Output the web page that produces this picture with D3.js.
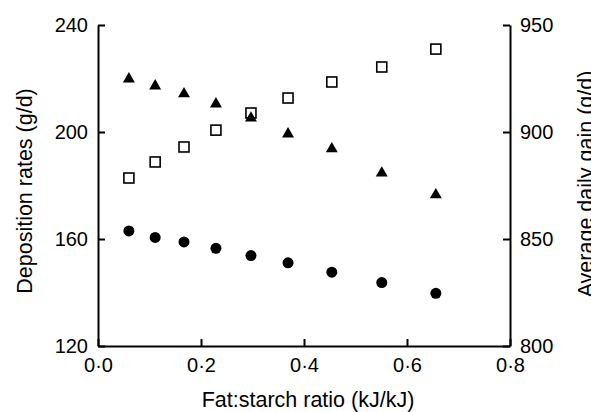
<!DOCTYPE html>
<html>
<head>
<meta charset="utf-8">
<script src="https://cdn.jsdelivr.net/npm/d3@7"></script>
<style>
  body { margin: 0; background: #fff; }
  svg text { font-family: "Liberation Sans", Arial, sans-serif; fill: #000; }
</style>
</head>
<body>
<div id="chart"></div>
<script>
// fat:starch ratio for each diet
const ratios = [0.060, 0.111, 0.167, 0.229, 0.297, 0.369, 0.454, 0.551, 0.656];
// deposition rates (g/d), left axis
const squareValues = [182.8, 188.8, 194.4, 200.7, 207.1, 212.7, 218.7, 224.3, 231.0];
const circleValues = [163.0, 160.6, 158.9, 156.5, 153.8, 151.1, 147.6, 143.7, 139.7];
// average daily gain (g/d), right axis
const gainValues = [924.8, 921.5, 917.8, 913.1, 906.5, 899.1, 892.1, 880.8, 870.6];

const xTicks = [0, 0.2, 0.4, 0.6, 0.8];
const leftTicks = [120, 160, 200, 240];
const rightTicks = [800, 850, 900, 950];

const width = 591, height = 412;
const margin = { top: 25, right: 81, bottom: 66, left: 98 };
const tickFont = '20px', titleFont = '21.5px';

const svg = d3.select('#chart').append('svg')
    .attr('width', width)
    .attr('height', height);

const x = d3.scaleLinear().domain([0, 0.8]).range([margin.left, width - margin.right]);
const yLeft = d3.scaleLinear().domain([120, 240]).range([height - margin.bottom, margin.top]);
const yRight = d3.scaleLinear().domain([800, 950]).range([height - margin.bottom, margin.top]);

const fmtX = d => d3.format('.1f')(d).replace('.', '\u00b7');

function styleAxis(g) {
    g.select('.domain').attr('stroke', '#000').attr('stroke-width', 2);
    g.selectAll('.tick line').attr('stroke', '#000').attr('stroke-width', 2);
    g.selectAll('.tick text').style('font-size', tickFont);
}

// bottom axis, ticks inward
svg.append('g')
    .attr('transform', `translate(0,${height - margin.bottom})`)
    .call(d3.axisBottom(x).tickValues(xTicks).tickFormat(fmtX).tickSizeInner(-7).tickSizeOuter(0).tickPadding(12))
    .call(styleAxis);

// left axis
svg.append('g')
    .attr('transform', `translate(${margin.left},0)`)
    .call(d3.axisLeft(yLeft).tickValues(leftTicks).tickSizeInner(-7).tickSizeOuter(0).tickPadding(10))
    .call(styleAxis);

// right axis
svg.append('g')
    .attr('transform', `translate(${width - margin.right},0)`)
    .call(d3.axisRight(yRight).tickValues(rightTicks).tickSizeInner(-7).tickSizeOuter(0).tickPadding(10))
    .call(styleAxis);

// axis titles
svg.append('text')
    .attr('x', 308)
    .attr('y', 407)
    .attr('text-anchor', 'middle')
    .style('font-size', titleFont)
    .text('Fat:starch ratio (kJ/kJ)');

svg.append('text')
    .attr('transform', 'translate(32,191) rotate(-90)')
    .attr('text-anchor', 'middle')
    .style('font-size', titleFont)
    .text('Deposition rates (g/d)');

svg.append('text')
    .attr('transform', 'translate(593,184) rotate(-90)')
    .attr('text-anchor', 'middle')
    .style('font-size', titleFont)
    .text('Average daily gain (g/d)');

// squares (open)
svg.append('g').selectAll('rect')
    .data(ratios.map((r, i) => [r, squareValues[i]]))
    .join('rect')
    .attr('x', d => x(d[0]) - 5)
    .attr('y', d => yLeft(d[1]) - 5)
    .attr('width', 10)
    .attr('height', 10)
    .attr('fill', '#fff')
    .attr('stroke', '#000')
    .attr('stroke-width', 1.6);

// triangles (filled, right axis)
const tri = d3.symbol().type(d3.symbolTriangle).size(62);
svg.append('g').selectAll('path')
    .data(ratios.map((r, i) => [r, gainValues[i]]))
    .join('path')
    .attr('d', tri)
    .attr('transform', d => `translate(${x(d[0])},${yRight(d[1])})`)
    .attr('fill', '#000');

// circles (filled)
svg.append('g').selectAll('circle')
    .data(ratios.map((r, i) => [r, circleValues[i]]))
    .join('circle')
    .attr('cx', d => x(d[0]))
    .attr('cy', d => yLeft(d[1]))
    .attr('r', 5.5)
    .attr('fill', '#000');
</script>
</body>
</html>
